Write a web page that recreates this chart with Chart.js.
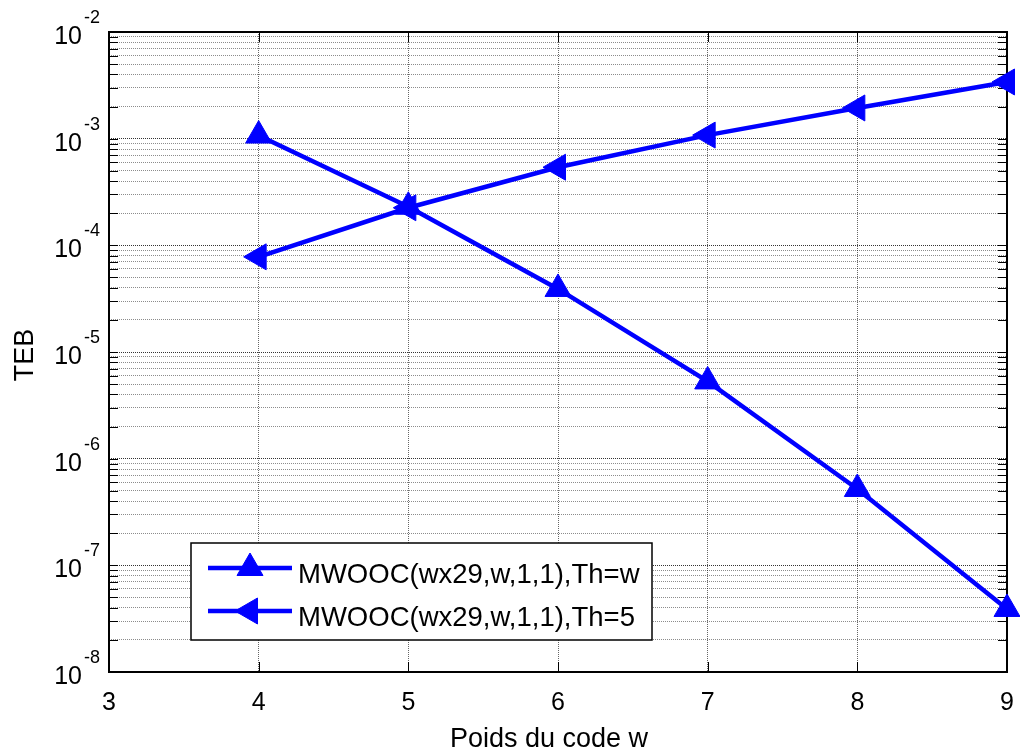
<!DOCTYPE html>
<html>
<head>
<meta charset="utf-8">
<title>TEB vs poids du code</title>
<script src="https://cdn.jsdelivr.net/npm/chart.js@4.4.0/dist/chart.umd.min.js"></script>
<style>
  html, body { margin: 0; padding: 0; background: #fff; }
  #wrap { width: 1020px; height: 755px; }
</style>
</head>
<body>
<div id="wrap"><canvas id="tebChart" width="1020" height="755"></canvas></div>
<script>
// Poids du code w (abscisse)
const codeWeights = [4, 5, 6, 7, 8, 9];
// TEB
const tebThW = [1.07e-3, 2.3e-4, 3.9e-5, 5.3e-6, 5.2e-7, 3.9e-8];
const tebTh5 = [7.8e-5, 2.25e-4, 5.4e-4, 1.08e-3, 1.94e-3, 3.4e-3];
const seriesLabels = ['MWOOC(wx29,w,1,1),Th=w', 'MWOOC(wx29,w,1,1),Th=5'];
const xTickValues = [3, 4, 5, 6, 7, 8, 9];
const yDecadeExps = [-8, -7, -6, -5, -4, -3, -2];

const FONT = '"Liberation Sans", Arial, Helvetica, sans-serif';
const BLUE = '#0000ff';

// ticks mineurs 1..9 x 10^k, comme le quadrillage MATLAB
const yTickValues = [];
yDecadeExps.forEach((e, i) => {
  if (i === yDecadeExps.length - 1) { yTickValues.push(Math.pow(10, e)); return; }
  for (let m = 1; m <= 9; m++) yTickValues.push(m * Math.pow(10, e));
});
const isDecade = (v) => Math.abs(Math.log10(v) - Math.round(Math.log10(v))) < 1e-9;

const matlabAxes = {
  id: 'matlabAxes',
  beforeDatasetsDraw(chart) {
    const { ctx, chartArea: a, scales: { x, y } } = chart;
    ctx.save();
    ctx.strokeStyle = '#000';
    ctx.lineWidth = 1;
    ctx.beginPath();
    y.ticks.forEach((t) => {
      const py = Math.round(y.getPixelForValue(t.value)) + 0.5;
      ctx.moveTo(a.left, py); ctx.lineTo(a.left + 9, py);
      ctx.moveTo(a.right, py); ctx.lineTo(a.right - 9, py);
    });
    x.ticks.forEach((t) => {
      const px = Math.round(x.getPixelForValue(t.value)) + 0.5;
      ctx.moveTo(px, a.bottom); ctx.lineTo(px, a.bottom - 10);
      ctx.moveTo(px, a.top); ctx.lineTo(px, a.top + 10);
    });
    ctx.stroke();

    ctx.lineWidth = 2;
    ctx.strokeRect(Math.round(a.left), Math.round(a.top), Math.round(a.right - a.left), Math.round(a.bottom - a.top));

    // libellés des ticks
    ctx.fillStyle = '#000';
    ctx.textBaseline = 'alphabetic';
    ctx.font = `25px ${FONT}`;
    ctx.textAlign = 'center';
    xTickValues.forEach((v) => {
      ctx.fillText(String(v), x.getPixelForValue(v), a.bottom + 38);
    });
    yDecadeExps.forEach((e) => {
      const py = y.getPixelForValue(Math.pow(10, e));
      ctx.font = `25px ${FONT}`;
      ctx.textAlign = 'right';
      ctx.fillText('10', a.left - 27, py + 12);
      ctx.font = `18px ${FONT}`;
      ctx.textAlign = 'left';
      ctx.fillText(String(e), a.left - 25, py - 9);
    });

    // titres des axes
    ctx.font = `27px ${FONT}`;
    ctx.textAlign = 'center';
    ctx.fillText('Poids du code w', 549, a.bottom + 75);
    ctx.save();
    ctx.translate(33, (a.top + a.bottom) / 2 + 3);
    ctx.rotate(-Math.PI / 2);
    ctx.fillText('TEB', 0, 0);
    ctx.restore();
    ctx.restore();
  },
  afterDatasetsDraw(chart) {
    const { ctx } = chart;
    const box = { left: 191, top: 543, right: 652, bottom: 640 };
    ctx.save();
    ctx.fillStyle = '#fff';
    ctx.fillRect(box.left, box.top, box.right - box.left, box.bottom - box.top);
    ctx.strokeStyle = '#000';
    ctx.lineWidth = 1.5;
    ctx.strokeRect(box.left, box.top, box.right - box.left, box.bottom - box.top);

    const rows = [568, 611];
    chart.data.datasets.forEach((ds, i) => {
      const ly = rows[i];
      ctx.strokeStyle = ds.borderColor;
      ctx.lineWidth = ds.borderWidth;
      ctx.beginPath();
      ctx.moveTo(208, ly);
      ctx.lineTo(292, ly);
      ctx.stroke();
      ctx.fillStyle = ds.pointBackgroundColor;
      ctx.strokeStyle = ds.pointBorderColor;
      ctx.lineWidth = ds.pointBorderWidth;
      Chart.helpers.drawPoint(ctx, {
        pointStyle: ds.pointStyle,
        rotation: ds.pointRotation,
        radius: ds.pointRadius,
        borderWidth: ds.pointBorderWidth
      }, 250, ly);
      ctx.fillStyle = '#000';
      ctx.font = `27.5px ${FONT}`;
      ctx.textAlign = 'left';
      ctx.textBaseline = 'alphabetic';
      ctx.fillText(ds.label, 298, ly + 15);
    });
    ctx.restore();
  }
};

const gridColor = (ctx) => (ctx.tick && isDecade(ctx.tick.value) ? 'rgba(0,0,0,0.8)' : 'rgba(0,0,0,0.45)');

new Chart(document.getElementById('tebChart').getContext('2d'), {
  type: 'line',
  data: {
    labels: codeWeights,
    datasets: [
      {
        label: seriesLabels[0],
        data: codeWeights.map((w, i) => ({ x: w, y: tebThW[i] })),
        borderColor: BLUE,
        borderWidth: 4.5,
        pointStyle: 'triangle',
        pointRotation: 0,
        pointRadius: 15,
        pointBorderWidth: 1,
        pointBackgroundColor: BLUE,
        pointBorderColor: BLUE,
        tension: 0,
        clip: false
      },
      {
        label: seriesLabels[1],
        data: codeWeights.map((w, i) => ({ x: w, y: tebTh5[i] })),
        borderColor: BLUE,
        borderWidth: 4.5,
        pointStyle: 'triangle',
        pointRotation: -90,
        pointRadius: 15,
        pointBorderWidth: 1,
        pointBackgroundColor: BLUE,
        pointBorderColor: BLUE,
        tension: 0,
        clip: false
      }
    ]
  },
  options: {
    responsive: false,
    animation: false,
    events: [],
    layout: { autoPadding: false, padding: { left: 109, top: 32, right: 13, bottom: 83 } },
    scales: {
      x: {
        type: 'linear',
        min: 3,
        max: 9,
        afterBuildTicks: (scale) => { scale.ticks = xTickValues.map((v) => ({ value: v })); },
        ticks: { display: false },
        grid: { drawTicks: false, color: 'rgba(0,0,0,0.6)', lineWidth: 1 },
        border: { display: false, dash: [1, 1] }
      },
      y: {
        type: 'logarithmic',
        min: 1e-8,
        max: 1e-2,
        afterBuildTicks: (scale) => { scale.ticks = yTickValues.map((v) => ({ value: v })); },
        ticks: { display: false },
        grid: { drawTicks: false, color: gridColor, lineWidth: 1 },
        border: { display: false, dash: [1, 1] }
      }
    },
    plugins: { legend: { display: false }, tooltip: { enabled: false } }
  },
  plugins: [matlabAxes]
});
</script>
</body>
</html>
